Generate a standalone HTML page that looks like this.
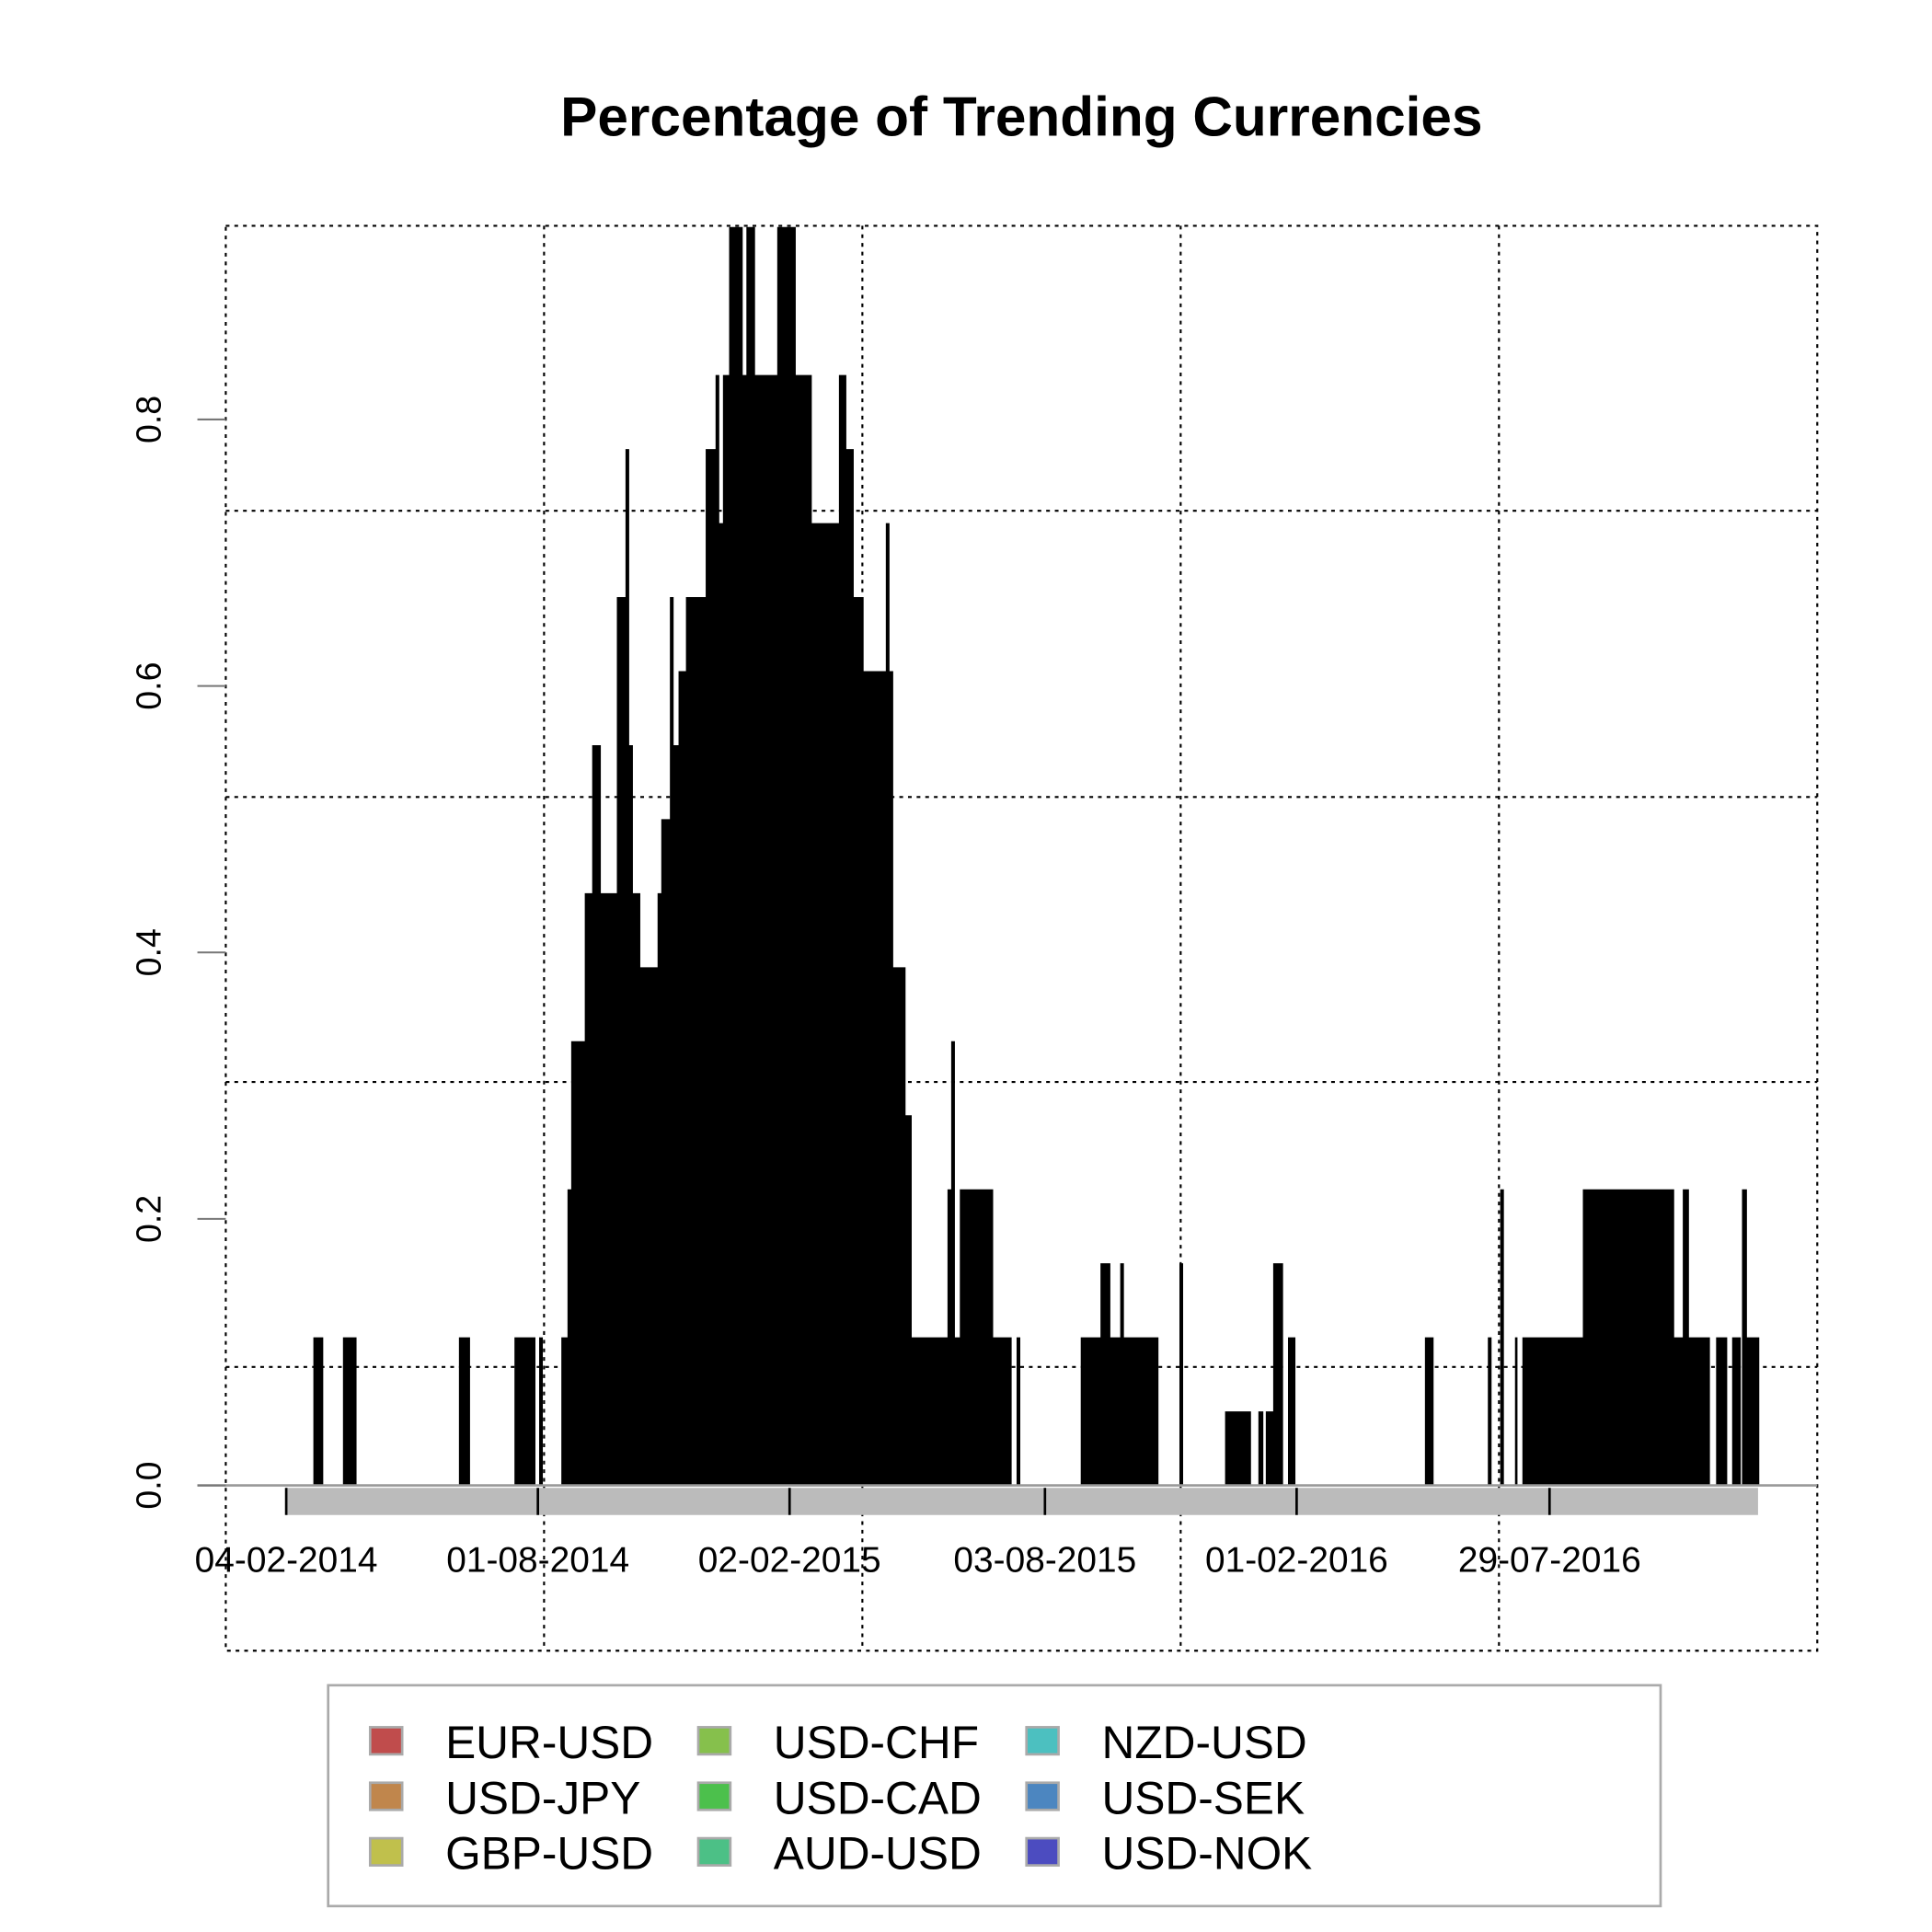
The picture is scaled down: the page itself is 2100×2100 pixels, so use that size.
<!DOCTYPE html>
<html><head><meta charset="utf-8"><style>html,body{margin:0;padding:0;background:#fff}svg{display:block}</style></head>
<body>
<svg width="2100" height="2100" viewBox="0 0 1566 1566" xmlns="http://www.w3.org/2000/svg" font-family="Liberation Sans, Arial, sans-serif">
<rect width="1566" height="1566" fill="#fff"/>
<text x="828" y="110" font-size="45" font-weight="bold" text-anchor="middle">Percentage of Trending Currencies</text>
<g stroke="#000" stroke-width="1.6" stroke-dasharray="3,4" fill="none">
<rect x="183" y="183" width="1290" height="1155"/>
<line x1="441" y1="183" x2="441" y2="1338"/><line x1="699" y1="183" x2="699" y2="1338"/>
<line x1="957" y1="183" x2="957" y2="1338"/><line x1="1215" y1="183" x2="1215" y2="1338"/>
<line x1="183" y1="414" x2="1473" y2="414"/><line x1="183" y1="646" x2="1473" y2="646"/>
<line x1="183" y1="877" x2="1473" y2="877"/><line x1="183" y1="1108" x2="1473" y2="1108"/>
</g>
<path fill="#000" d="
M254 1204V1084H262V1204Z M278 1204V1084H289V1204Z M372 1204V1084H381V1204Z M417 1204V1084H434V1204Z M437 1204V1084H440V1204Z
M455 1204V1084H460V964H463V844H474V724H480V604H487V724H500V484H507V364H510V604H513V724H519V784H533V724H536V664H543V484H546V604H550V544H556V484H572V364H580V304H583V424H586V304H591V184H602V304H605V184H612V304H630V184H645V304H658V424H680V304H686V364H692V484H700V544H718V424H721V544H724V784H734V904H739V1084H768V964H771V844H774V1084H778V964H805V1084H820V1204Z
M824 1204V1084H827V1204Z
M876 1204V1084H892V1024H900V1084H908V1024H911V1084H939V1204Z
M956 1204V1024H959V1204Z
M993 1204V1144H1014V1204Z M1020 1204V1144H1024V1204Z M1026 1204V1144H1032V1024H1040V1204Z M1044 1204V1084H1050V1204Z
M1155 1204V1084H1162V1204Z M1206 1204V1084H1209V1204Z M1216 1204V964H1219V1204Z M1228 1204V1084H1230V1204Z
M1234 1204V1084H1283V964H1357V1084H1364V964H1369V1084H1386V1204Z
M1391 1204V1084H1400V1204Z M1404 1204V1084H1411V1204Z M1412 1204V964H1416V1084H1426V1204Z"/>
<line x1="160" y1="1204" x2="1473" y2="1204" stroke="#999" stroke-width="2"/>
<rect x="232" y="1206" width="1193" height="22" fill="#bbb"/>
<g stroke="#000" stroke-width="2">
<line x1="232" y1="1206" x2="232" y2="1228"/><line x1="436" y1="1206" x2="436" y2="1228"/>
<line x1="640" y1="1206" x2="640" y2="1228"/><line x1="847" y1="1206" x2="847" y2="1228"/>
<line x1="1051" y1="1206" x2="1051" y2="1228"/><line x1="1256" y1="1206" x2="1256" y2="1228"/>
</g>
<g stroke="#777" stroke-width="1.5">
<line x1="160" y1="1204" x2="183" y2="1204"/><line x1="160" y1="988" x2="183" y2="988"/>
<line x1="160" y1="772" x2="183" y2="772"/><line x1="160" y1="556" x2="183" y2="556"/><line x1="160" y1="340" x2="183" y2="340"/>
</g>
<g font-size="28" text-anchor="middle">
<text transform="translate(130,1204) rotate(-90)">0.0</text>
<text transform="translate(130,988) rotate(-90)">0.2</text>
<text transform="translate(130,772) rotate(-90)">0.4</text>
<text transform="translate(130,556) rotate(-90)">0.6</text>
<text transform="translate(130,340) rotate(-90)">0.8</text>
</g>
<g font-size="29" text-anchor="middle">
<text x="232" y="1274">04-02-2014</text><text x="436" y="1274">01-08-2014</text>
<text x="640" y="1274">02-02-2015</text><text x="847" y="1274">03-08-2015</text>
<text x="1051" y="1274">01-02-2016</text><text x="1256" y="1274">29-07-2016</text>
</g>
<rect x="266" y="1366" width="1080" height="179" fill="none" stroke="#aaa" stroke-width="2"/>
<g stroke="#aaa" stroke-width="2">
<rect x="300" y="1400" width="26" height="22" fill="#c04c4c"/>
<rect x="300" y="1445" width="26" height="22" fill="#c0864c"/>
<rect x="300" y="1490" width="26" height="22" fill="#c0c04c"/>
<rect x="566" y="1400" width="26" height="22" fill="#86c04c"/>
<rect x="566" y="1445" width="26" height="22" fill="#4cc04c"/>
<rect x="566" y="1490" width="26" height="22" fill="#4cc086"/>
<rect x="832" y="1400" width="26" height="22" fill="#4cc0c0"/>
<rect x="832" y="1445" width="26" height="22" fill="#4c86c0"/>
<rect x="832" y="1490" width="26" height="22" fill="#4c4cc0"/>
</g>
<g font-size="37">
<text x="361" y="1425">EUR-USD</text><text x="361" y="1470">USD-JPY</text><text x="361" y="1515">GBP-USD</text>
<text x="627" y="1425">USD-CHF</text><text x="627" y="1470">USD-CAD</text><text x="627" y="1515">AUD-USD</text>
<text x="893" y="1425">NZD-USD</text><text x="893" y="1470">USD-SEK</text><text x="893" y="1515">USD-NOK</text>
</g>
</svg>
</body></html>
